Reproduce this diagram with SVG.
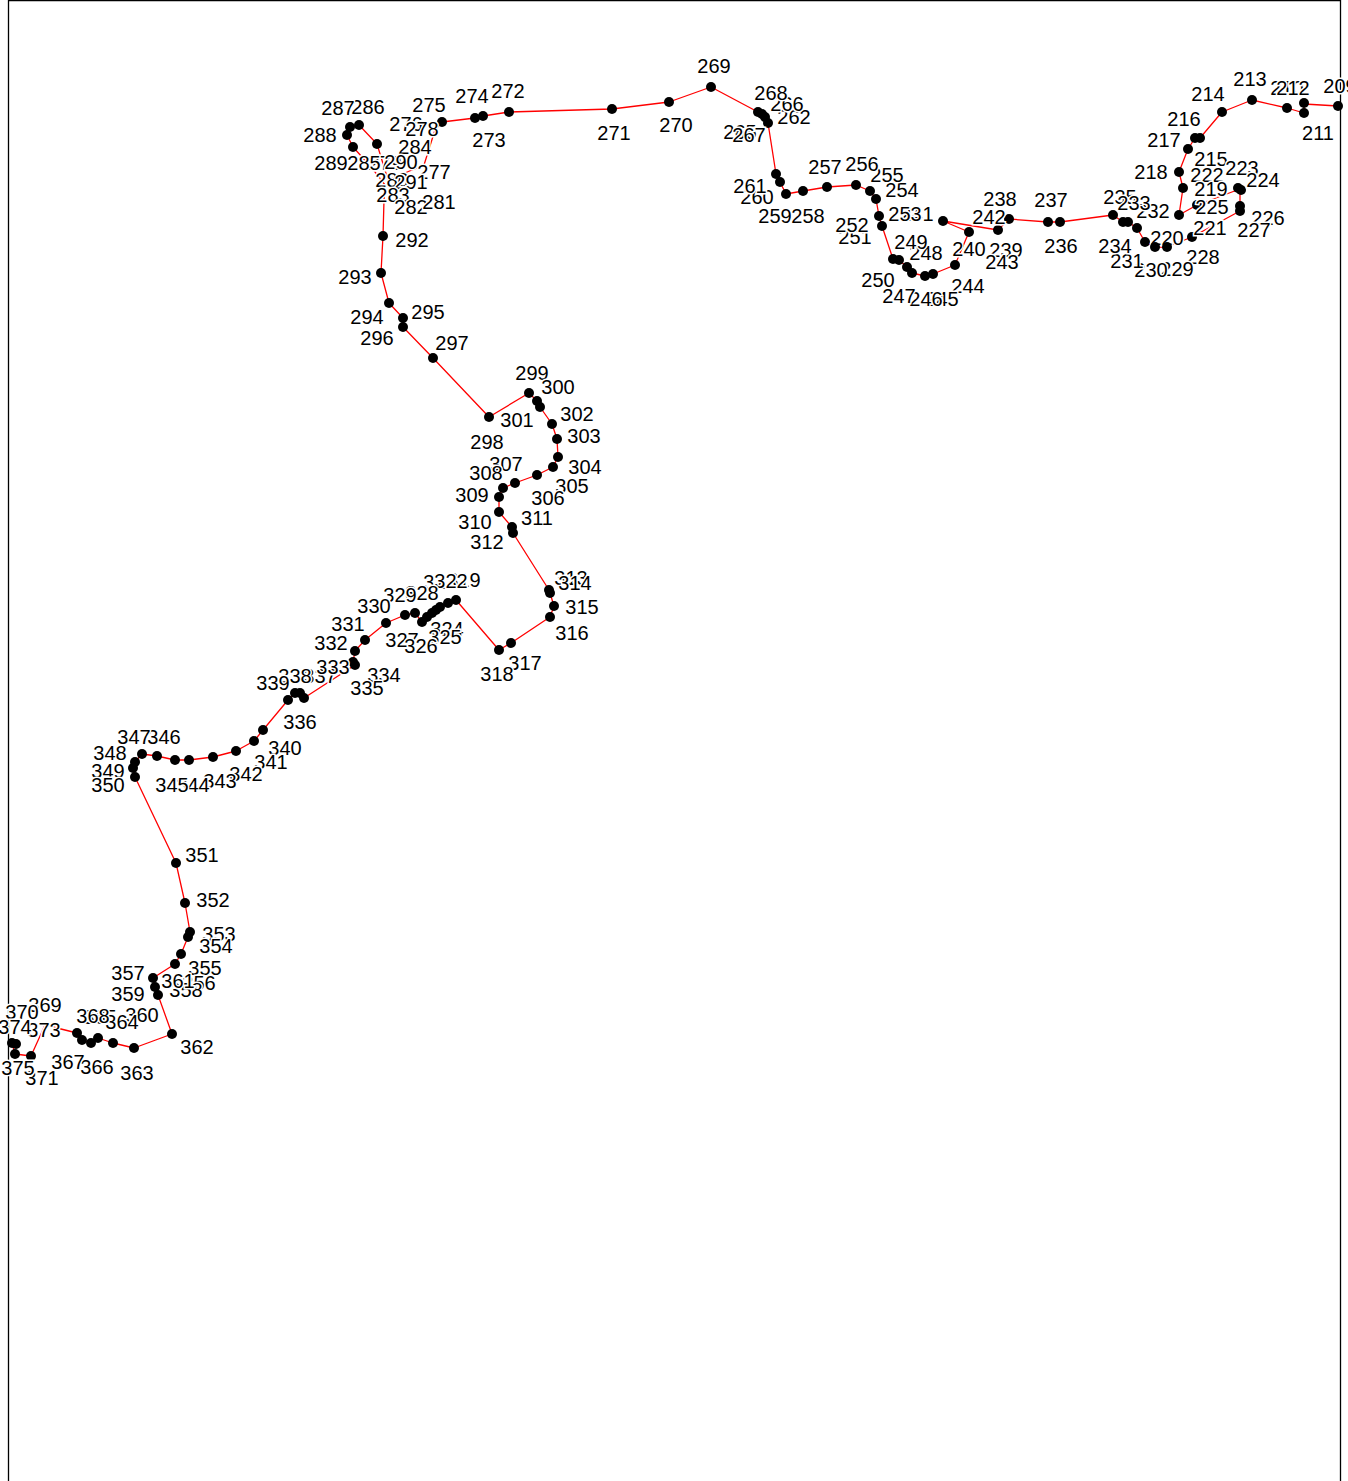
<svg xmlns="http://www.w3.org/2000/svg" width="1348" height="1481" viewBox="0 0 1348 1481">
<style>
.e{fill:none;stroke:#ff0000;stroke-width:1.3;stroke-linejoin:round}
.n circle{fill:#000}
.n text{font-family:"Liberation Sans",Arial,sans-serif;font-size:20px;fill:#000;stroke:#fff;stroke-width:3;paint-order:stroke;text-anchor:middle}
.f{fill:none;stroke:#000;stroke-width:1.3}
</style>
<rect width="1348" height="1481" fill="#fff"/>
<path class="f" d="M8.5,1481 V0.5 H1340.5 V1481"/>
<g id="connectors">
<polyline class="e" points="1338,106 1304,104 1304,113 1287,108 1252,100 1222,112 1200,138 1195,138 1188,149 1179,172 1183,188 1179,215 1197,205 1240,189 1240,207 1240,211 1192,237 1167,247 1155,247 1145,242 1137,228 1128,222 1123,222 1113,215 1060,222 1048,222 1009,219 998,230 943,221 969,232 955,265 933,274 925,276 912,273 907,267 899,260 893,259 882,226 879,216 876,199 870,191 856,185 827,187 803,191 786,194 780,182 776,174 768,123 765,117 762,114 758,112 711,87 669,102 612,109 509,112 483,116 475,118 442,122 435,130 424,165 388,180 377,144 359,125 350,127 347,135 353,147 372,168 385,185 384,200 383,236 381,273 389,303 403,318 403,327 433,358 489,417 529,393 537,401 540,407 552,424 557,439 558,457 553,467 537,475 515,483 503,488 499,497 499,512 512,527 513,533 549,590 550,593 554,606 550,617 511,643 499,650 456,600 448,603 440,607 436,610 432,613 427,617 422,622 415,613 405,615 386,623 365,640 355,651 353,662 355,665 304,698 300,693 295,693 288,700 263,730 254,741 236,751 213,757 189,760 175,760 157,756 142,754 135,762 133,768 135,777 176,863 185,903 190,932 188,937 181,954 175,964 153,978 155,987 158,995 172,1034 134,1048 113,1043 98,1038 91,1043 82,1040 77,1033 45,1025 31,1056 15,1054 12,1043"/>
</g>
<g id="nodes">
<g id="n209" class="n"><circle cx="1338" cy="106" r="5"/><text x="1340" y="93">209</text></g>
<g id="n210" class="n"><circle cx="1304" cy="103" r="5"/><text x="1287" y="95">210</text></g>
<g id="n211" class="n"><circle cx="1304" cy="113" r="5"/><text x="1318" y="140">211</text></g>
<g id="n212" class="n"><circle cx="1287" cy="108" r="5"/><text x="1293" y="95">212</text></g>
<g id="n213" class="n"><circle cx="1252" cy="100" r="5"/><text x="1250" y="86">213</text></g>
<g id="n214" class="n"><circle cx="1222" cy="112" r="5"/><text x="1208" y="101">214</text></g>
<g id="n215" class="n"><circle cx="1195" cy="138" r="5"/><text x="1211" y="166">215</text></g>
<g id="n216" class="n"><circle cx="1200" cy="138" r="5"/><text x="1184" y="126">216</text></g>
<g id="n217" class="n"><circle cx="1188" cy="149" r="5"/><text x="1164" y="147">217</text></g>
<g id="n218" class="n"><circle cx="1179" cy="172" r="5"/><text x="1151" y="179">218</text></g>
<g id="n220" class="n"><circle cx="1145" cy="242" r="5"/><text x="1167" y="245">220</text></g>
<g id="n222" class="n"><text x="1207" y="182">222</text></g>
<g id="n223" class="n"><circle cx="1238" cy="188" r="5"/><text x="1242" y="175">223</text></g>
<g id="n224" class="n"><circle cx="1241" cy="190" r="5"/><text x="1263" y="187">224</text></g>
<g id="n219" class="n"><circle cx="1183" cy="188" r="5"/><text x="1211" y="196">219</text></g>
<g id="n225" class="n"><circle cx="1197" cy="205" r="5"/><text x="1212" y="214">225</text></g>
<g id="n226" class="n"><circle cx="1240" cy="206" r="5"/><text x="1268" y="225">226</text></g>
<g id="n227" class="n"><circle cx="1240" cy="211" r="5"/><text x="1254" y="237">227</text></g>
<g id="n221" class="n"><circle cx="1192" cy="237" r="5"/><text x="1210" y="235">221</text></g>
<g id="n228" class="n"><circle cx="1167" cy="247" r="5"/><text x="1203" y="264">228</text></g>
<g id="n229" class="n"><circle cx="1155" cy="247" r="5"/><text x="1177" y="276">229</text></g>
<g id="n230" class="n"><text x="1151" y="277">230</text></g>
<g id="n231" class="n"><circle cx="1137" cy="228" r="5"/><text x="1127" y="268">231</text></g>
<g id="n232" class="n"><circle cx="1179" cy="215" r="5"/><text x="1153" y="218">232</text></g>
<g id="n234" class="n"><circle cx="1123" cy="222" r="5"/><text x="1115" y="253">234</text></g>
<g id="n235" class="n"><circle cx="1113" cy="215" r="5"/><text x="1120" y="204">235</text></g>
<g id="n233" class="n"><circle cx="1128" cy="222" r="5"/><text x="1134" y="210">233</text></g>
<g id="n236" class="n"><circle cx="1060" cy="222" r="5"/><text x="1061" y="253">236</text></g>
<g id="n237" class="n"><circle cx="1048" cy="222" r="5"/><text x="1051" y="207">237</text></g>
<g id="n238" class="n"><circle cx="1009" cy="219" r="5"/><text x="1000" y="206">238</text></g>
<g id="n239" class="n"><circle cx="998" cy="230" r="5"/><text x="1006" y="257">239</text></g>
<g id="n240" class="n"><circle cx="969" cy="232" r="5"/><text x="969" y="256">240</text></g>
<g id="n242" class="n"><text x="989" y="224">242</text></g>
<g id="n243" class="n"><text x="1002" y="269">243</text></g>
<g id="n244" class="n"><circle cx="955" cy="265" r="5"/><text x="968" y="293">244</text></g>
<g id="n245" class="n"><circle cx="933" cy="274" r="5"/><text x="942" y="306">245</text></g>
<g id="n246" class="n"><circle cx="925" cy="276" r="5"/><text x="926" y="306">246</text></g>
<g id="n247" class="n"><circle cx="912" cy="273" r="5"/><text x="899" y="303">247</text></g>
<g id="n248" class="n"><circle cx="907" cy="267" r="5"/><text x="926" y="260">248</text></g>
<g id="n249" class="n"><circle cx="899" cy="260" r="5"/><text x="911" y="249">249</text></g>
<g id="n250" class="n"><circle cx="893" cy="259" r="5"/><text x="878" y="287">250</text></g>
<g id="n251" class="n"><circle cx="882" cy="226" r="5"/><text x="855" y="244">251</text></g>
<g id="n252" class="n"><circle cx="879" cy="216" r="5"/><text x="852" y="232">252</text></g>
<g id="n241" class="n"><circle cx="943" cy="221" r="5"/><text x="917" y="221">241</text></g>
<g id="n253" class="n"><text x="905" y="221">253</text></g>
<g id="n254" class="n"><circle cx="876" cy="199" r="5"/><text x="902" y="197">254</text></g>
<g id="n255" class="n"><circle cx="870" cy="191" r="5"/><text x="887" y="182">255</text></g>
<g id="n256" class="n"><circle cx="856" cy="185" r="5"/><text x="862" y="171">256</text></g>
<g id="n257" class="n"><circle cx="827" cy="187" r="5"/><text x="825" y="174">257</text></g>
<g id="n258" class="n"><circle cx="803" cy="191" r="5"/><text x="808" y="223">258</text></g>
<g id="n259" class="n"><circle cx="786" cy="194" r="5"/><text x="775" y="223">259</text></g>
<g id="n260" class="n"><circle cx="780" cy="182" r="5"/><text x="757" y="204">260</text></g>
<g id="n261" class="n"><circle cx="776" cy="174" r="5"/><text x="750" y="193">261</text></g>
<g id="n262" class="n"><circle cx="768" cy="123" r="5"/><text x="794" y="124">262</text></g>
<g id="n263" class="n"><circle cx="765" cy="117" r="5"/></g>
<g id="n266" class="n"><circle cx="762" cy="114" r="5"/><text x="787" y="111">266</text></g>
<g id="n265" class="n"><text x="740" y="139">265</text></g>
<g id="n267" class="n"><text x="749" y="142">267</text></g>
<g id="n268" class="n"><circle cx="758" cy="112" r="5"/><text x="771" y="100">268</text></g>
<g id="n269" class="n"><circle cx="711" cy="87" r="5"/><text x="714" y="73">269</text></g>
<g id="n270" class="n"><circle cx="669" cy="102" r="5"/><text x="676" y="132">270</text></g>
<g id="n271" class="n"><circle cx="612" cy="109" r="5"/><text x="614" y="140">271</text></g>
<g id="n272" class="n"><circle cx="509" cy="112" r="5"/><text x="508" y="98">272</text></g>
<g id="n273" class="n"><circle cx="483" cy="116" r="5"/><text x="489" y="147">273</text></g>
<g id="n274" class="n"><circle cx="475" cy="118" r="5"/><text x="472" y="103">274</text></g>
<g id="n275" class="n"><circle cx="442" cy="122" r="5"/><text x="429" y="112">275</text></g>
<g id="n276" class="n"><text x="406" y="131">276</text></g>
<g id="n278" class="n"><text x="422" y="136">278</text></g>
<g id="n284" class="n"><text x="415" y="154">284</text></g>
<g id="n279" class="n"><text x="385" y="170">279</text></g>
<g id="n285" class="n"><circle cx="377" cy="144" r="5"/><text x="364" y="170">285</text></g>
<g id="n286" class="n"><circle cx="359" cy="125" r="5"/><text x="368" y="114">286</text></g>
<g id="n287" class="n"><circle cx="350" cy="127" r="5"/><text x="338" y="115">287</text></g>
<g id="n288" class="n"><circle cx="347" cy="135" r="5"/><text x="320" y="142">288</text></g>
<g id="n289" class="n"><circle cx="353" cy="147" r="5"/><text x="331" y="170">289</text></g>
<g id="n290" class="n"><text x="401" y="169">290</text></g>
<g id="n277" class="n"><text x="434" y="179">277</text></g>
<g id="n280" class="n"><text x="392" y="187">280</text></g>
<g id="n291" class="n"><text x="411" y="189">291</text></g>
<g id="n283" class="n"><text x="393" y="202">283</text></g>
<g id="n282" class="n"><text x="411" y="214">282</text></g>
<g id="n281" class="n"><text x="439" y="209">281</text></g>
<g id="n292" class="n"><circle cx="383" cy="236" r="5"/><text x="412" y="247">292</text></g>
<g id="n293" class="n"><circle cx="381" cy="273" r="5"/><text x="355" y="284">293</text></g>
<g id="n294" class="n"><circle cx="389" cy="303" r="5"/><text x="367" y="324">294</text></g>
<g id="n295" class="n"><circle cx="403" cy="318" r="5"/><text x="428" y="319">295</text></g>
<g id="n296" class="n"><circle cx="403" cy="327" r="5"/><text x="377" y="345">296</text></g>
<g id="n297" class="n"><circle cx="433" cy="358" r="5"/><text x="452" y="350">297</text></g>
<g id="n298" class="n"><circle cx="489" cy="417" r="5"/><text x="487" y="449">298</text></g>
<g id="n299" class="n"><circle cx="529" cy="393" r="5"/><text x="532" y="380">299</text></g>
<g id="n300" class="n"><circle cx="537" cy="401" r="5"/><text x="558" y="394">300</text></g>
<g id="n301" class="n"><circle cx="540" cy="407" r="5"/><text x="517" y="427">301</text></g>
<g id="n302" class="n"><circle cx="552" cy="424" r="5"/><text x="577" y="421">302</text></g>
<g id="n303" class="n"><circle cx="557" cy="439" r="5"/><text x="584" y="443">303</text></g>
<g id="n304" class="n"><circle cx="558" cy="457" r="5"/><text x="585" y="474">304</text></g>
<g id="n305" class="n"><circle cx="553" cy="467" r="5"/><text x="572" y="493">305</text></g>
<g id="n306" class="n"><circle cx="537" cy="475" r="5"/><text x="548" y="505">306</text></g>
<g id="n307" class="n"><circle cx="515" cy="483" r="5"/><text x="506" y="471">307</text></g>
<g id="n308" class="n"><circle cx="503" cy="488" r="5"/><text x="486" y="480">308</text></g>
<g id="n309" class="n"><circle cx="499" cy="497" r="5"/><text x="472" y="502">309</text></g>
<g id="n310" class="n"><circle cx="499" cy="512" r="5"/><text x="475" y="529">310</text></g>
<g id="n311" class="n"><circle cx="512" cy="527" r="5"/><text x="537" y="525">311</text></g>
<g id="n312" class="n"><circle cx="513" cy="533" r="5"/><text x="487" y="549">312</text></g>
<g id="n313" class="n"><circle cx="549" cy="590" r="5"/><text x="571" y="585">313</text></g>
<g id="n314" class="n"><circle cx="550" cy="593" r="5"/><text x="575" y="590">314</text></g>
<g id="n315" class="n"><circle cx="554" cy="606" r="5"/><text x="582" y="614">315</text></g>
<g id="n316" class="n"><circle cx="550" cy="617" r="5"/><text x="572" y="640">316</text></g>
<g id="n317" class="n"><circle cx="511" cy="643" r="5"/><text x="525" y="670">317</text></g>
<g id="n318" class="n"><circle cx="499" cy="650" r="5"/><text x="497" y="681">318</text></g>
<g id="n320" class="n"><circle cx="448" cy="603" r="5"/></g>
<g id="n321" class="n"><circle cx="440" cy="607" r="5"/></g>
<g id="n319" class="n"><circle cx="456" cy="600" r="5"/><text x="464" y="587">319</text></g>
<g id="n323" class="n"><circle cx="432" cy="613" r="5"/><text x="440" y="589">323</text></g>
<g id="n322" class="n"><circle cx="436" cy="610" r="5"/><text x="451" y="588">322</text></g>
<g id="n324" class="n"><circle cx="427" cy="617" r="5"/><text x="447" y="636">324</text></g>
<g id="n325" class="n"><circle cx="422" cy="622" r="5"/><text x="445" y="644">325</text></g>
<g id="n327" class="n"><text x="402" y="647">327</text></g>
<g id="n326" class="n"><text x="421" y="653">326</text></g>
<g id="n328" class="n"><circle cx="415" cy="613" r="5"/><text x="422" y="600">328</text></g>
<g id="n329" class="n"><circle cx="405" cy="615" r="5"/><text x="400" y="602">329</text></g>
<g id="n330" class="n"><circle cx="386" cy="623" r="5"/><text x="374" y="613">330</text></g>
<g id="n331" class="n"><circle cx="365" cy="640" r="5"/><text x="348" y="631">331</text></g>
<g id="n332" class="n"><circle cx="355" cy="651" r="5"/><text x="331" y="650">332</text></g>
<g id="n336" class="n"><circle cx="304" cy="698" r="5"/><text x="300" y="729">336</text></g>
<g id="n337" class="n"><circle cx="300" cy="693" r="5"/><text x="320" y="683">337</text></g>
<g id="n333" class="n"><circle cx="353" cy="662" r="5"/><text x="333" y="674">333</text></g>
<g id="n334" class="n"><circle cx="355" cy="665" r="5"/><text x="384" y="682">334</text></g>
<g id="n335" class="n"><text x="367" y="695">335</text></g>
<g id="n338" class="n"><circle cx="295" cy="693" r="5"/><text x="295" y="683">338</text></g>
<g id="n339" class="n"><circle cx="288" cy="700" r="5"/><text x="273" y="690">339</text></g>
<g id="n340" class="n"><circle cx="263" cy="730" r="5"/><text x="285" y="755">340</text></g>
<g id="n341" class="n"><circle cx="254" cy="741" r="5"/><text x="271" y="769">341</text></g>
<g id="n342" class="n"><circle cx="236" cy="751" r="5"/><text x="246" y="781">342</text></g>
<g id="n343" class="n"><circle cx="213" cy="757" r="5"/><text x="220" y="788">343</text></g>
<g id="n344" class="n"><circle cx="189" cy="760" r="5"/><text x="193" y="792">344</text></g>
<g id="n345" class="n"><circle cx="175" cy="760" r="5"/><text x="172" y="792">345</text></g>
<g id="n346" class="n"><circle cx="157" cy="756" r="5"/><text x="164" y="744">346</text></g>
<g id="n347" class="n"><circle cx="142" cy="754" r="5"/><text x="134" y="744">347</text></g>
<g id="n348" class="n"><circle cx="135" cy="762" r="5"/><text x="110" y="760">348</text></g>
<g id="n349" class="n"><circle cx="133" cy="768" r="5"/><text x="108" y="778">349</text></g>
<g id="n350" class="n"><circle cx="135" cy="777" r="5"/><text x="108" y="792">350</text></g>
<g id="n351" class="n"><circle cx="176" cy="863" r="5"/><text x="202" y="862">351</text></g>
<g id="n352" class="n"><circle cx="185" cy="903" r="5"/><text x="213" y="907">352</text></g>
<g id="n353" class="n"><circle cx="190" cy="932" r="5"/><text x="219" y="941">353</text></g>
<g id="n354" class="n"><circle cx="188" cy="937" r="5"/><text x="216" y="953">354</text></g>
<g id="n355" class="n"><circle cx="181" cy="954" r="5"/><text x="205" y="975">355</text></g>
<g id="n356" class="n"><circle cx="175" cy="964" r="5"/><text x="199" y="990">356</text></g>
<g id="n357" class="n"><circle cx="153" cy="978" r="5"/><text x="128" y="980">357</text></g>
<g id="n358" class="n"><circle cx="155" cy="987" r="5"/><text x="186" y="997">358</text></g>
<g id="n361" class="n"><text x="178" y="988">361</text></g>
<g id="n359" class="n"><circle cx="158" cy="995" r="5"/><text x="128" y="1001">359</text></g>
<g id="n360" class="n"><text x="142" y="1022">360</text></g>
<g id="n362" class="n"><circle cx="172" cy="1034" r="5"/><text x="197" y="1054">362</text></g>
<g id="n363" class="n"><circle cx="134" cy="1048" r="5"/><text x="137" y="1080">363</text></g>
<g id="n365" class="n"><circle cx="98" cy="1038" r="5"/><text x="100" y="1024">365</text></g>
<g id="n364" class="n"><circle cx="113" cy="1043" r="5"/><text x="122" y="1029">364</text></g>
<g id="n366" class="n"><circle cx="91" cy="1043" r="5"/><text x="97" y="1074">366</text></g>
<g id="n367" class="n"><circle cx="82" cy="1040" r="5"/><text x="68" y="1069">367</text></g>
<g id="n368" class="n"><circle cx="77" cy="1033" r="5"/><text x="93" y="1023">368</text></g>
<g id="n369" class="n"><text x="45" y="1012">369</text></g>
<g id="n370" class="n"><text x="22" y="1019">370</text></g>
<g id="n373" class="n"><text x="44" y="1037">373</text></g>
<g id="n374" class="n"><circle cx="16" cy="1044" r="5"/><text x="15" y="1034">374</text></g>
<g id="n372" class="n"><circle cx="12" cy="1043" r="5"/></g>
<g id="n371" class="n"><circle cx="31" cy="1056" r="5"/><text x="42" y="1085">371</text></g>
<g id="n375" class="n"><circle cx="15" cy="1054" r="5"/><text x="18" y="1075">375</text></g>
</g>
</svg>
